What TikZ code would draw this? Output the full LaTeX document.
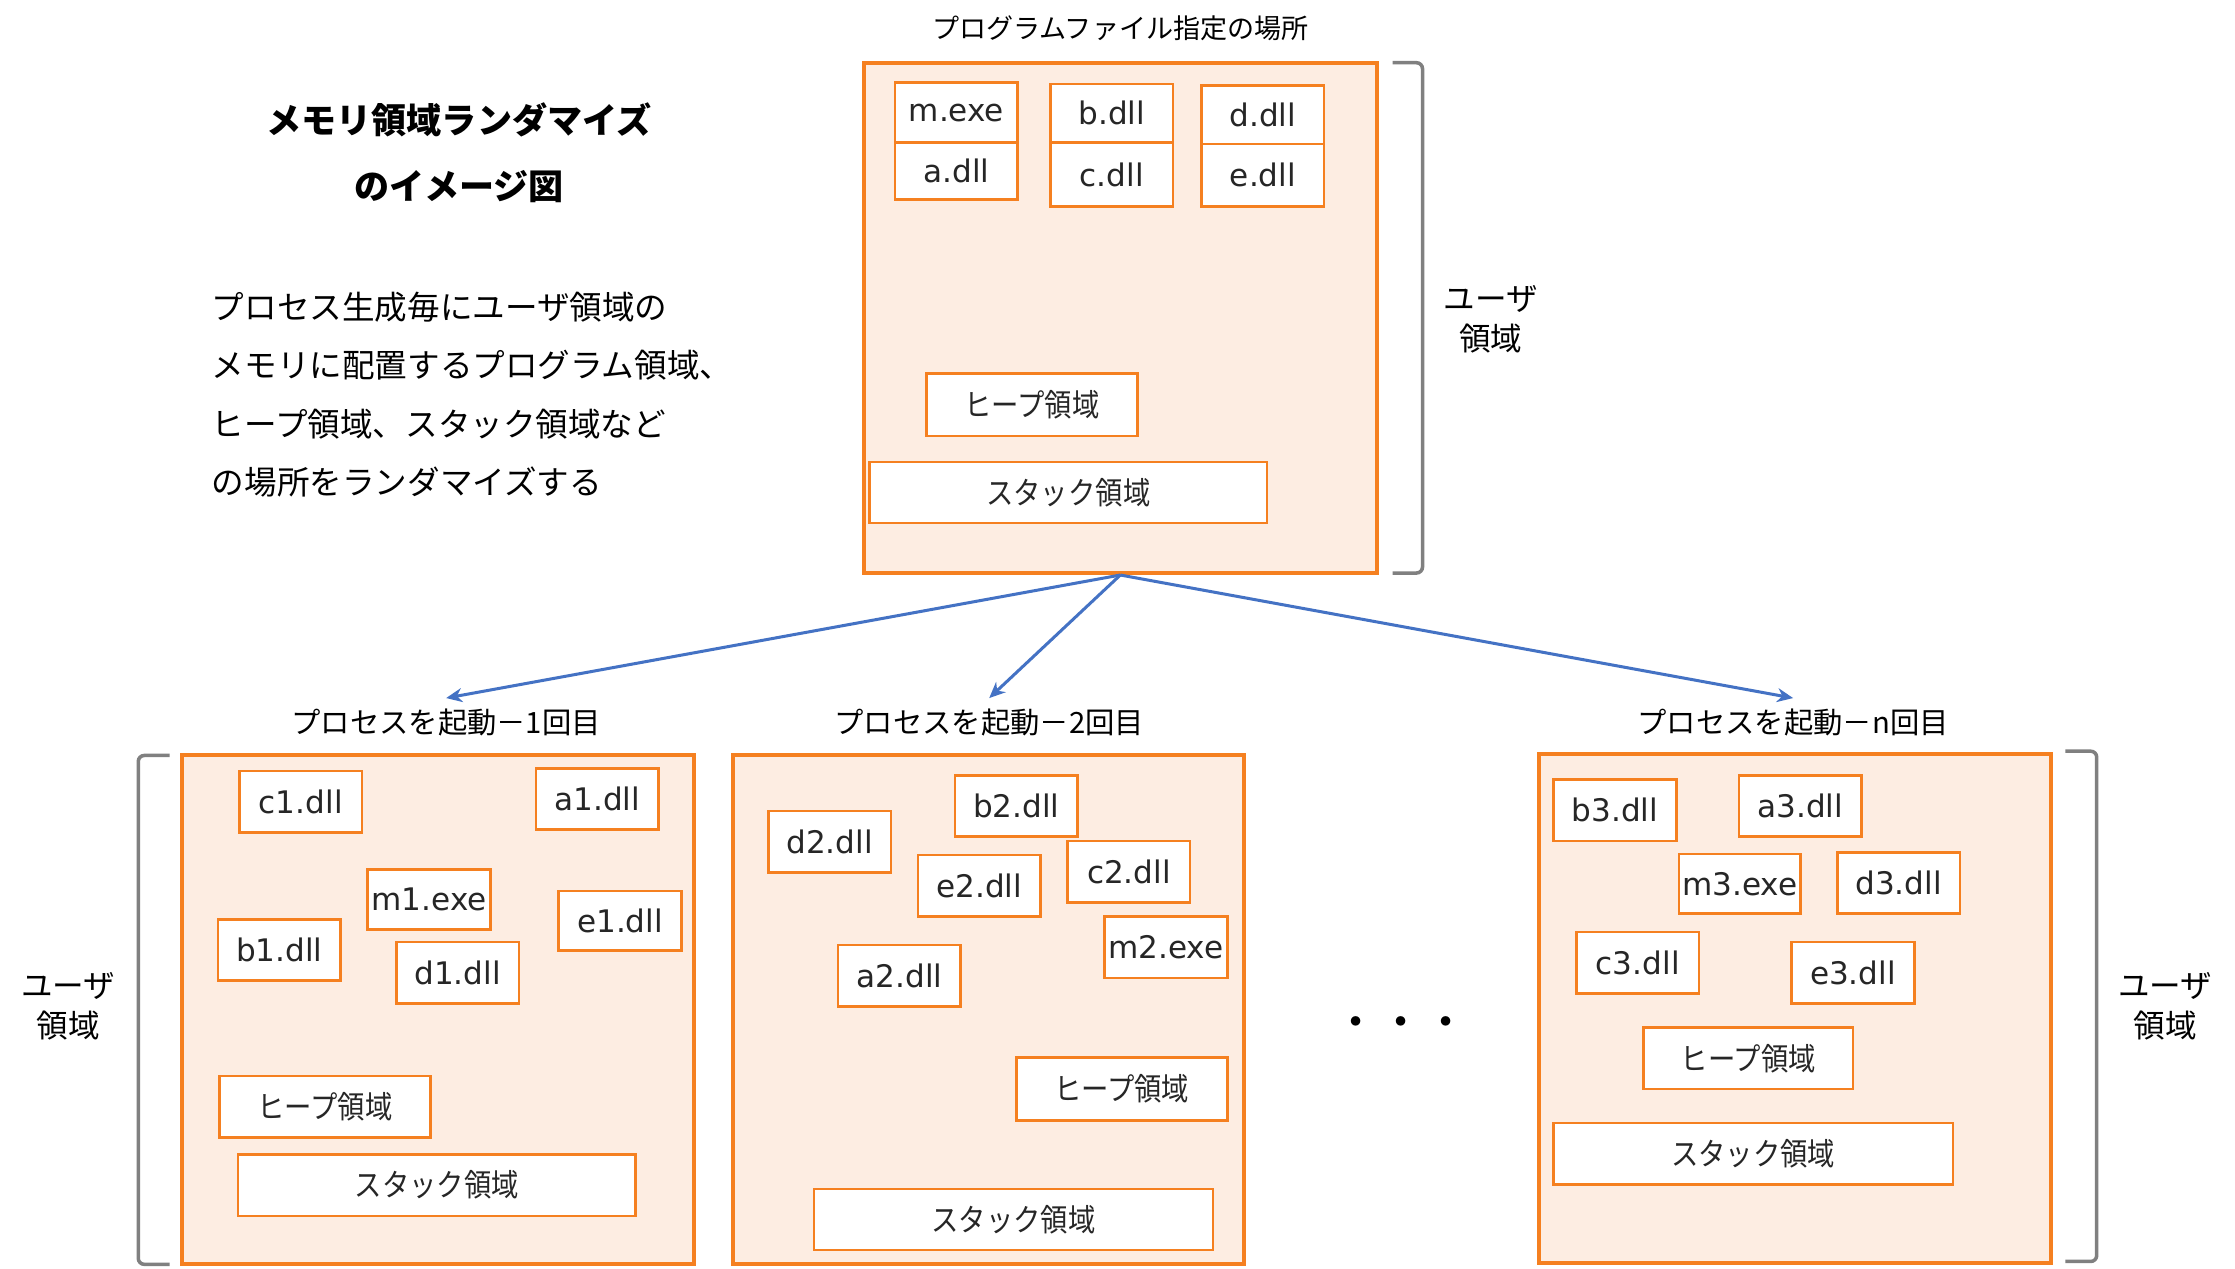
\documentclass[tikz,border=0pt]{standalone}
\usepackage{fontspec}
\setmainfont{Noto Sans CJK JP}
\newfontfamily\latf{DejaVu Sans}
\newfontfamily\jpcond{Noto Sans CJK JP}[FakeStretch=0.88]
\usetikzlibrary{fit,arrows.meta}
\definecolor{orB}{RGB}{245,128,32}
\definecolor{orF}{RGB}{253,237,226}
\definecolor{arrblue}{RGB}{68,114,196}
\definecolor{brkgray}{RGB}{128,128,128}
\definecolor{txt}{RGB}{38,38,38}
\tikzset{
 outerbox/.style={draw=orB, fill=orF, line width=0.8pt, inner sep=0pt},
 fbox/.style={draw=orB, fill=white, line width=0.5pt, inner sep=0pt},
 lt/.style={font=\latf\fontsize{6.2pt}{7pt}\selectfont, text=txt, inner sep=0pt},
 jt/.style={font=\jpcond\fontsize{6.2pt}{7pt}\selectfont, text=txt, inner sep=0pt},
 brk/.style={draw=brkgray, line width=0.7pt, rounded corners=1.2pt},
 arr/.style={draw=arrblue, line width=0.6pt, -{Stealth[length=3.2pt,width=2.8pt]}},
 plab/.style={font=\fontsize{5.85pt}{6pt}\selectfont, text=black, inner sep=2pt},
 ulab/.style={font=\fontsize{6.3pt}{8pt}\selectfont, text=black, align=center},
}
\newcommand\membox[7]{\node[fbox, fit={(#2,#3) (#4,#5)}] (#1) {};
  \node[#6] (#1t) at (#1.center) {#7};}
\begin{document}
\begin{tikzpicture}[x=0.01cm,y=-0.01cm]
\useasboundingbox[fill=white] (0,0) rectangle (1568,890);

% title and description
\node[font=\bfseries\fontsize{7pt}{13.1pt}\selectfont, align=center] (title) at (322,107) {メモリ領域ランダマイズ\\のイメージ図};
\node[font=\fontsize{6.5pt}{11.67pt}\selectfont, align=left, anchor=west, inner sep=0pt] (desc) at (148,277)
 {プロセス生成毎にユーザ領域の\\メモリに配置するプログラム領域、\\ヒープ領域、スタック領域など\\の場所をランダマイズする};

% top box
\node[plab, font=\fontsize{5.4pt}{6pt}\selectfont] (toplab) at (786,20) {プログラムファイル指定の場所};
\node[outerbox, fit={(606,44) (966,402)}] (top) {};
\membox{m0}{628}{58}{714}{100}{lt}{m.exe}
\membox{a0}{628}{100}{714}{140}{lt}{a.dll}
\membox{b0}{737}{59}{823}{100}{lt}{b.dll}
\membox{c0}{737}{100}{823}{145}{lt}{c.dll}
\membox{d0}{843}{60}{929}{101}{lt}{d.dll}
\membox{e0}{843}{101}{929}{145}{lt}{e.dll}
\membox{h0}{650}{262}{798}{306}{jt}{ヒープ領域}
\membox{s0}{610}{324}{889}{367}{jt}{スタック領域}
\draw[brk] (977,44) -- (998,44) -- (998,402) -- (977,402);
\node[ulab] (u0) at (1046,224) {ユーザ\\領域};

% process labels and arrows
\node[plab] (p1) at (313,507) {プロセスを起動－1回目};
\node[plab] (p2) at (694,507) {プロセスを起動－2回目};
\node[plab] (p3) at (1258,507) {プロセスを起動－n回目};
\draw[arr] (top.south) -- (p1.north);
\draw[arr] (top.south) -- (p2.north);
\draw[arr] (top.south) -- (p3.north);

% box 1
\node[outerbox, fit={(128,530) (487,887)}] (box1) {};
\membox{c1}{168}{541}{254}{584}{lt}{c1.dll}
\membox{a1}{376}{539}{462}{582}{lt}{a1.dll}
\membox{m1}{258}{610}{344}{652}{lt}{m1.exe}
\membox{e1}{392}{625}{478}{667}{lt}{e1.dll}
\membox{b1}{153}{645}{239}{688}{lt}{b1.dll}
\membox{d1}{278}{661}{364}{704}{lt}{d1.dll}
\membox{h1}{154}{755}{302}{798}{jt}{ヒープ領域}
\membox{s1}{167}{810}{446}{853}{jt}{スタック領域}
\draw[brk] (119,530) -- (97,530) -- (97,887) -- (119,887);
\node[ulab] (u1) at (48,706) {ユーザ\\領域};

% box 2
\node[outerbox, fit={(514,530) (873,887)}] (box2) {};
\membox{d2}{539}{569}{625}{612}{lt}{d2.dll}
\membox{b2}{670}{544}{756}{587}{lt}{b2.dll}
\membox{e2}{644}{600}{730}{643}{lt}{e2.dll}
\membox{c2}{749}{590}{835}{633}{lt}{c2.dll}
\membox{m2}{775}{643}{861}{686}{lt}{m2.exe}
\membox{a2}{588}{663}{674}{706}{lt}{a2.dll}
\membox{h2}{713}{742}{861}{786}{jt}{ヒープ領域}
\membox{s2}{571}{834}{851}{877}{jt}{スタック領域}

% dots
\node[font=\fontsize{9pt}{9pt}\selectfont] (dots) at (983,721) {・・・};

% box 3
\node[outerbox, fit={(1080,529) (1439,886)}] (box3) {};
\membox{b3}{1090}{547}{1176}{590}{lt}{b3.dll}
\membox{a3}{1220}{544}{1306}{587}{lt}{a3.dll}
\membox{m3}{1178}{599}{1263}{641}{lt}{m3.exe}
\membox{d3}{1289}{598}{1375}{641}{lt}{d3.dll}
\membox{c3}{1106}{654}{1192}{697}{lt}{c3.dll}
\membox{e3}{1257}{661}{1343}{704}{lt}{e3.dll}
\membox{h3}{1153}{721}{1300}{764}{jt}{ヒープ領域}
\membox{s3}{1090}{788}{1370}{831}{jt}{スタック領域}
\draw[brk] (1449,527) -- (1471,527) -- (1471,885) -- (1449,885);
\node[ulab] (u3) at (1519,706) {ユーザ\\領域};
\end{tikzpicture}
\end{document}
